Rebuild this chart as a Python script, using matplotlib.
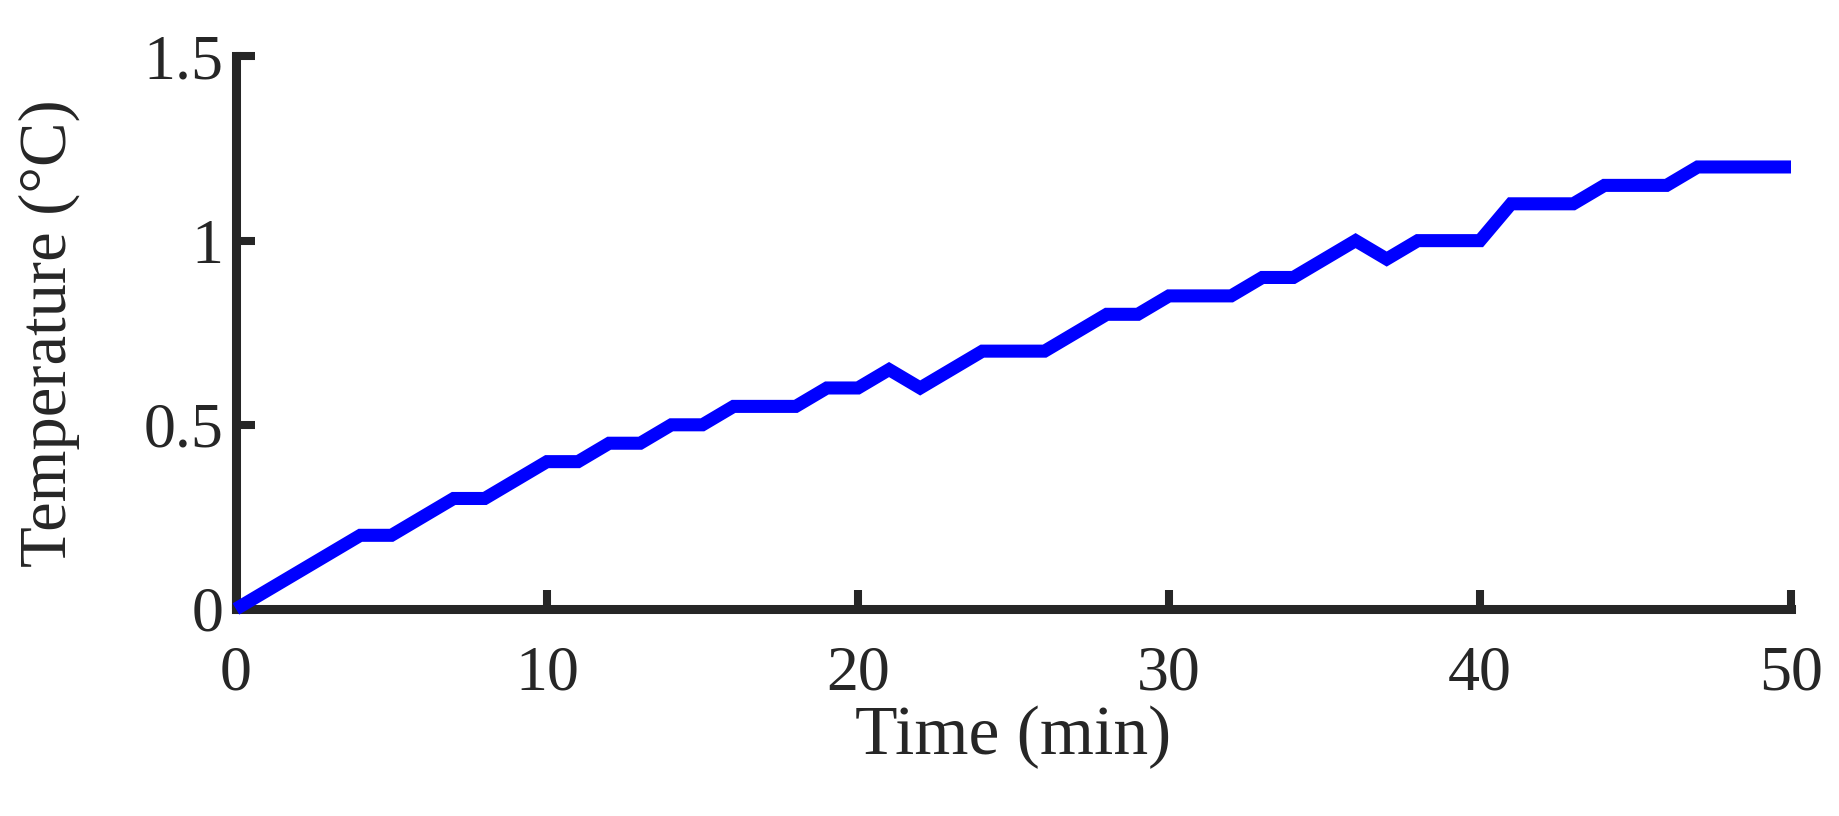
import matplotlib
matplotlib.use("Agg")
import matplotlib.pyplot as plt

time_min = list(range(0, 51))
temperature = [0.00, 0.05, 0.10, 0.15, 0.20, 0.20, 0.25, 0.30, 0.30, 0.35,
               0.40, 0.40, 0.45, 0.45, 0.50, 0.50, 0.55, 0.55, 0.55, 0.60,
               0.60, 0.65, 0.60, 0.65, 0.70, 0.70, 0.70, 0.75, 0.80, 0.80,
               0.85, 0.85, 0.85, 0.90, 0.90, 0.95, 1.00, 0.95, 1.00, 1.00,
               1.00, 1.10, 1.10, 1.10, 1.15, 1.15, 1.15, 1.20, 1.20, 1.20,
               1.20]
xticks = [0, 10, 20, 30, 40, 50]
yticks = [0, 0.5, 1, 1.5]
ytick_labels = ["0", "0.5", "1", "1.5"]

plt.rcParams['font.family'] = ['Liberation Serif', 'DejaVu Serif']
dark = "#262626"

fig = plt.figure(figsize=(18.39, 8.16), dpi=100)
ax = fig.add_axes([0.1283, 0.2537, 0.8456, 0.6771])

ax.plot(time_min, temperature, color="#0000ff", linewidth=9.4,
        solid_capstyle="butt", solid_joinstyle="miter", clip_on=False, zorder=3)

ax.set_xlim(0, 50)
ax.set_ylim(0, 1.5)
ax.set_xticks(xticks)
ax.set_yticks(yticks)
ax.set_yticklabels(ytick_labels)

for s in ["top", "right"]:
    ax.spines[s].set_visible(False)
for s in ["left", "bottom"]:
    ax.spines[s].set_linewidth(6.5)
    ax.spines[s].set_color(dark)
    ax.spines[s].set_capstyle("projecting")

ax.tick_params(axis="both", direction="in", length=14, width=5.8,
               color=dark, labelcolor=dark, labelsize=46)
ax.tick_params(axis="x", pad=26)
ax.tick_params(axis="y", pad=9)

ax.set_xlabel("Time (min)", fontsize=50, color=dark)
ax.set_ylabel("Temperature (°C)", fontsize=48, color=dark)
ax.xaxis.set_label_coords(0.5, -0.175)
ax.yaxis.set_label_coords(-0.1, 0.5)

fig.savefig("out.png", dpi=100, facecolor="white")
